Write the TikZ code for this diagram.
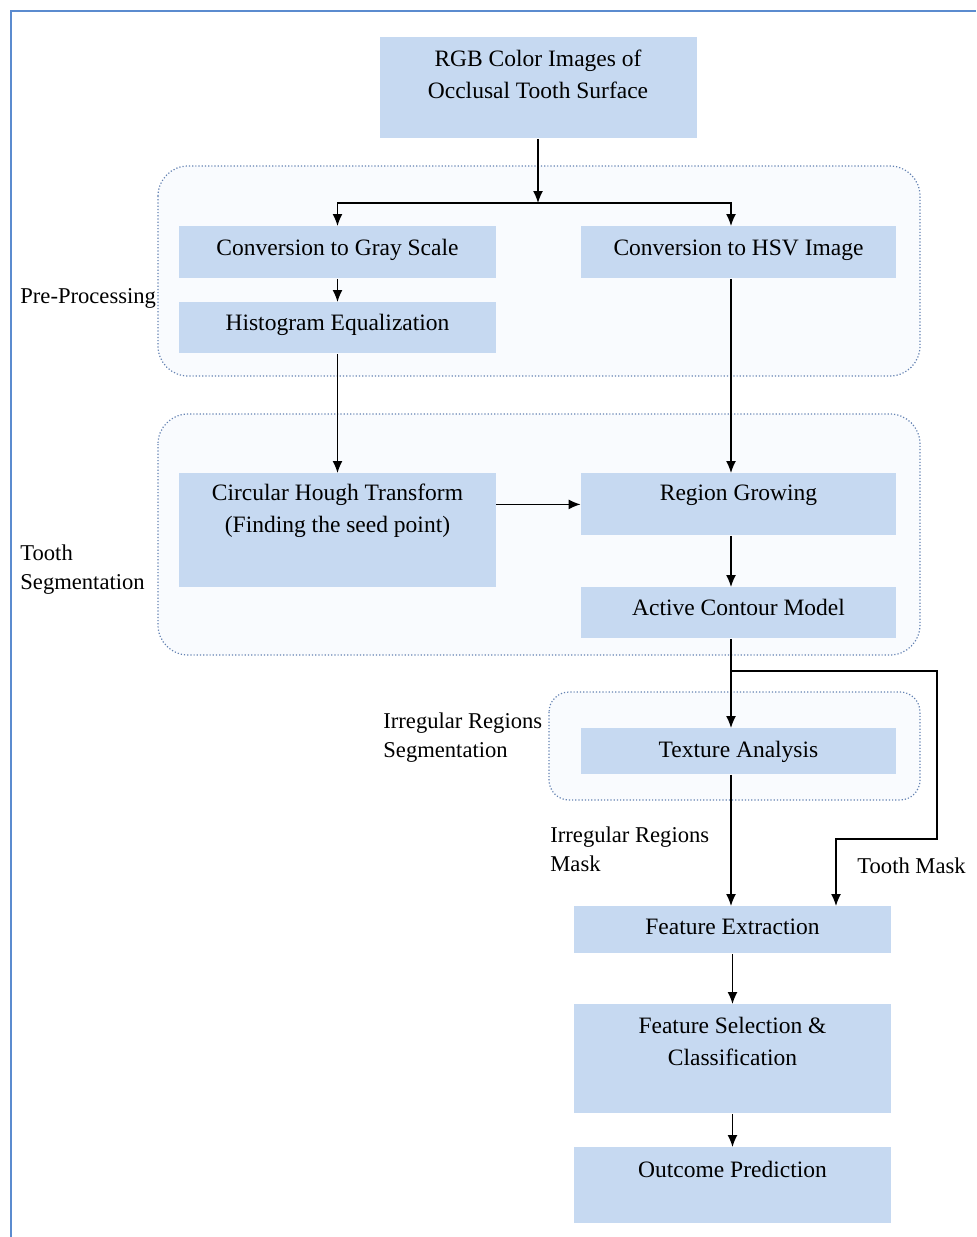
\documentclass[tikz,border=0pt]{standalone}
\usepackage{fontspec}
\setmainfont{Liberation Serif}
\usetikzlibrary{arrows.meta}
\usetikzlibrary{calc}

\definecolor{boxblue}{RGB}{198,217,241}
\definecolor{groupfill}{RGB}{249,251,254}
\definecolor{groupline}{RGB}{100,130,178}
\definecolor{framecol}{RGB}{91,139,207}

\begin{document}
\begin{tikzpicture}[x=0.5pt,y=-0.5pt,>={Latex[length=6pt,width=5pt]},
	box/.style={fill=boxblue,anchor=north,inner sep=0pt,minimum width=158.5pt,
		align=center,font=\fontsize{11.75}{16}\selectfont},
	group/.style={draw=groupline,densely dotted,line width=0.6pt,fill=groupfill,rounded corners=15pt},
	tag/.style={anchor=base west,align=left,inner sep=0pt,
		font=\fontsize{11.3}{14.3}\selectfont}]
	\useasboundingbox (0,0) rectangle (976,1237);
	\draw[framecol,line width=1.2pt] (11,1237) -- (11,11) -- (976,11);
	% stage groups
	\draw[group] (158,166) rectangle (920,376);
	\draw[group] (158,414) rectangle (920,655);
	\draw[group,rounded corners=10pt] (549,692) rectangle (920,800);
	% boxes
	\node[box,text height=30.5pt,text depth=20pt] (rgb) at (538,37)
		{RGB Color Images of\\Occlusal Tooth Surface};
	\node[box,text height=14.5pt,text depth=11.5pt] (gray) at (337.5,226)
		{Conversion to Gray Scale};
	\node[box,minimum width=157.5pt,text height=14.5pt,text depth=11.5pt] (hsv) at (738.5,226)
		{Conversion to HSV Image};
	\node[box,text height=14pt,text depth=11.5pt] (hist) at (337.5,302)
		{Histogram Equalization};
	\node[box,text height=29.5pt,text depth=27.5pt] (hough) at (337.5,473)
		{Circular Hough Transform\\(Finding the seed point)};
	\node[box,minimum width=157.5pt,text height=13.5pt,text depth=17.5pt] (region) at (738.5,473)
		{Region Growing};
	\node[box,minimum width=157.5pt,text height=14pt,text depth=11.5pt] (active) at (738.5,587)
		{Active Contour Model};
	\node[box,minimum width=157.5pt,text height=14.5pt,text depth=8.5pt] (texture) at (738.5,728)
		{Texture Analysis};
	\node[box,text height=14pt,text depth=9.5pt] (feat) at (732.5,906)
		{Feature Extraction};
	\node[box,text height=30.5pt,text depth=24pt] (sel) at (732.5,1004)
		{Feature Selection \&\\Classification};
	\node[box,text height=15pt,text depth=23pt] (outcome) at (732.5,1147)
		{Outcome Prediction};
	% side labels
	\node[tag] (pretag) at (20,303) {Pre-Processing};
	\node[tag] (segtag) at (20,589) {Tooth\\Segmentation};
	\node[tag] (irrtag) at (383,757) {Irregular Regions\\Segmentation};
	\node[tag] (masktag) at (550,871) {Irregular Regions\\Mask};
	\node[tag] (toothtag) at (857,873) {Tooth Mask};
	% junctions
	\coordinate (split) at (538,203);
	\coordinate (tap) at (731,671);
	\coordinate (bendA) at (937,839);
	\coordinate (bendB) at (836,839);
	% arrows
	\draw[->,line width=0.7pt] (rgb.south) -- (split);
	\draw[->,line width=0.7pt] (split) -| (gray.north);
	\draw[->,line width=0.7pt] (split) -| ([xshift=-3.75pt]hsv.north);
	\draw[->,line width=0.7pt] (gray) -- (hist);
	\draw[->,line width=0.7pt] (hist) -- (hough);
	\draw[->,line width=0.7pt] ([xshift=-3.75pt]hsv.south) -- ([xshift=-3.75pt]region.north);
	\draw[->,line width=0.7pt] (hough.east |- region) -- (region.west);
	\draw[->,line width=0.7pt] ([xshift=-3.75pt]region.south) -- ([xshift=-3.75pt]active.north);
	\draw[->,line width=0.7pt] ([xshift=-3.75pt]active.south) -- ([xshift=-3.75pt]texture.north);
	\draw[->,line width=0.7pt] (tap) -| (bendA) -- (bendB) -- (bendB |- feat.north);
	\draw[->,line width=0.7pt] ([xshift=-3.75pt]texture.south) -- ([xshift=-3.75pt]texture.south |- feat.north);
	\draw[->,line width=0.7pt] (feat) -- (sel);
	\draw[->,line width=0.7pt] (sel) -- (outcome);
\end{tikzpicture}
\end{document}
